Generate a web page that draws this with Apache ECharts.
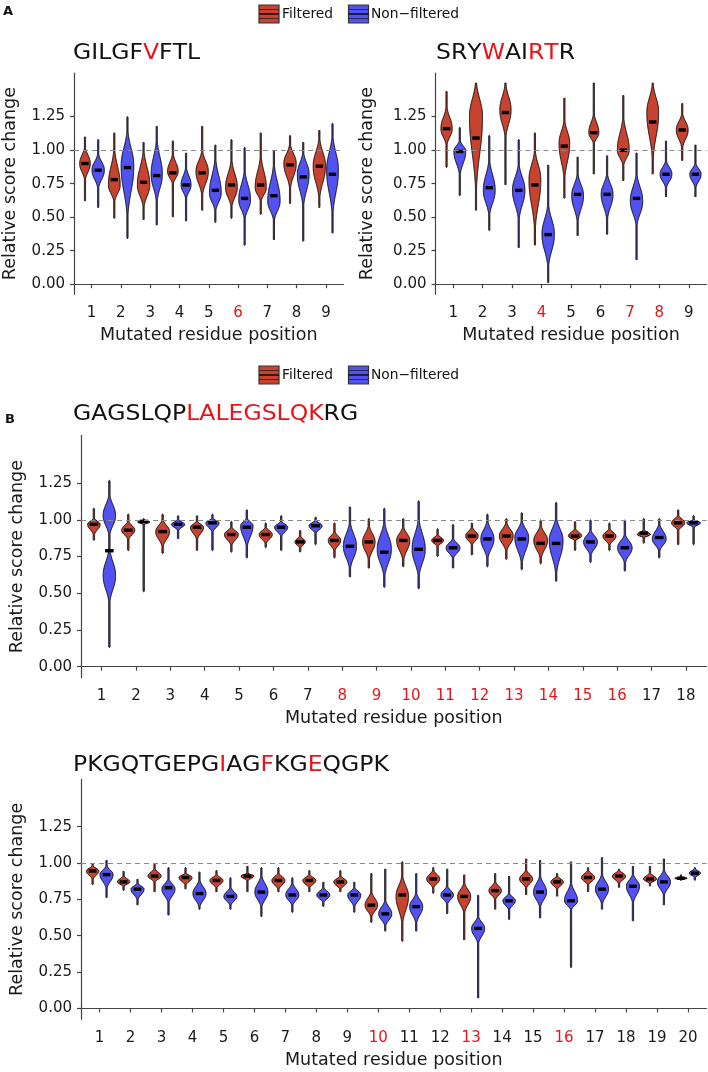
<!DOCTYPE html>
<html>
<head>
<meta charset="utf-8">
<script src="https://cdn.jsdelivr.net/npm/echarts@6/dist/echarts.min.js"></script>
<style>
  html, body { margin: 0; background: #fff; }
  #chart { width: 708px; height: 1072px; }
</style>
</head>
<body>
<div id="chart"></div>
<script>
// every violin row: [position, min, bodyLow, median, bodyHigh, max, halfWidth, peak]
const gilgfSeq = 'GILGFVFTL';
const gilgfRed = [6];
const gilgfFiltered = [
  [1, 0.62, 0.78, 0.90, 1.02, 1.10, 0.18, 0.90],
  [2, 0.49, 0.62, 0.78, 1.00, 1.13, 0.20, 0.74],
  [3, 0.48, 0.58, 0.76, 0.99, 1.06, 0.21, 0.74],
  [4, 0.50, 0.75, 0.83, 0.97, 1.07, 0.18, 0.84],
  [5, 0.55, 0.67, 0.83, 0.99, 1.18, 0.21, 0.84],
  [6, 0.49, 0.58, 0.74, 0.92, 1.08, 0.20, 0.72],
  [7, 0.52, 0.62, 0.74, 0.95, 1.13, 0.19, 0.72],
  [8, 0.60, 0.72, 0.89, 1.04, 1.11, 0.21, 0.90],
  [9, 0.57, 0.65, 0.88, 1.08, 1.15, 0.21, 0.88]
];
const gilgfNonFiltered = [
  [1, 0.57, 0.72, 0.85, 0.97, 1.08, 0.21, 0.85],
  [2, 0.34, 0.52, 0.87, 1.14, 1.25, 0.215, 0.88],
  [3, 0.44, 0.62, 0.81, 1.07, 1.18, 0.19, 0.82],
  [4, 0.47, 0.64, 0.74, 0.87, 0.98, 0.17, 0.74],
  [5, 0.46, 0.55, 0.70, 0.93, 1.04, 0.20, 0.68],
  [6, 0.29, 0.49, 0.64, 0.84, 1.02, 0.20, 0.63],
  [7, 0.33, 0.48, 0.66, 0.89, 1.00, 0.21, 0.62],
  [8, 0.32, 0.59, 0.80, 0.98, 1.06, 0.20, 0.82],
  [9, 0.38, 0.53, 0.82, 1.10, 1.20, 0.20, 0.85]
];

const srywSeq = 'SRYWAIRTR';
const srywRed = [4, 7, 8];
const srywFiltered = [
  [1, 0.87, 1.04, 1.16, 1.32, 1.44, 0.19, 1.16],
  [2, 0.55, 0.72, 1.09, 1.50, 1.50, 0.22, 1.25],
  [3, 0.74, 1.10, 1.28, 1.49, 1.50, 0.19, 1.30],
  [4, 0.29, 0.42, 0.74, 0.99, 1.13, 0.20, 0.78],
  [5, 0.64, 0.79, 1.03, 1.22, 1.39, 0.18, 1.05],
  [6, 0.82, 1.05, 1.13, 1.27, 1.50, 0.17, 1.13],
  [7, 0.77, 0.89, 1.00, 1.24, 1.41, 0.20, 1.00],
  [8, 0.82, 0.94, 1.21, 1.49, 1.50, 0.20, 1.28],
  [9, 0.92, 1.02, 1.15, 1.27, 1.35, 0.20, 1.15]
];
const srywNonFiltered = [
  [1, 0.66, 0.82, 0.99, 1.07, 1.17, 0.20, 0.99],
  [2, 0.40, 0.52, 0.72, 0.92, 1.11, 0.20, 0.70],
  [3, 0.27, 0.49, 0.70, 0.89, 1.08, 0.21, 0.70],
  [4, 0.01, 0.14, 0.37, 0.59, 0.89, 0.21, 0.37],
  [5, 0.36, 0.47, 0.67, 0.82, 0.95, 0.20, 0.66],
  [6, 0.37, 0.49, 0.67, 0.82, 0.96, 0.20, 0.67],
  [7, 0.18, 0.44, 0.64, 0.82, 0.98, 0.21, 0.62],
  [8, 0.65, 0.72, 0.82, 0.92, 1.07, 0.20, 0.82],
  [9, 0.65, 0.72, 0.82, 0.90, 1.04, 0.19, 0.82]
];

const gagsSeq = 'GAGSLQPLALEGSLQKRG';
const gagsRed = [8, 9, 10, 11, 12, 13, 14, 15, 16];
const gagsFiltered = [
  [1, 0.86, 0.90, 0.97, 1.01, 1.08, 0.18, 0.97],
  [2, 0.79, 0.87, 0.93, 0.99, 1.04, 0.19, 0.93],
  [3, 0.77, 0.82, 0.92, 1.00, 1.04, 0.20, 0.92],
  [4, 0.79, 0.87, 0.95, 0.99, 1.03, 0.19, 0.95],
  [5, 0.78, 0.83, 0.90, 0.95, 0.99, 0.20, 0.90],
  [6, 0.81, 0.84, 0.90, 0.95, 0.98, 0.19, 0.90],
  [7, 0.78, 0.81, 0.85, 0.89, 0.93, 0.15, 0.85],
  [8, 0.74, 0.79, 0.86, 0.92, 0.98, 0.18, 0.86],
  [9, 0.67, 0.73, 0.85, 0.96, 1.01, 0.18, 0.85],
  [10, 0.68, 0.73, 0.86, 0.95, 1.01, 0.19, 0.86],
  [11, 0.75, 0.82, 0.86, 0.90, 0.94, 0.17, 0.86],
  [12, 0.76, 0.83, 0.89, 0.95, 0.98, 0.18, 0.89],
  [13, 0.73, 0.79, 0.89, 0.98, 1.01, 0.20, 0.89],
  [14, 0.70, 0.74, 0.84, 0.96, 1.00, 0.20, 0.86],
  [15, 0.79, 0.86, 0.89, 0.94, 0.99, 0.19, 0.89],
  [16, 0.79, 0.83, 0.89, 0.94, 0.98, 0.19, 0.89],
  [17, 0.84, 0.88, 0.91, 0.93, 1.01, 0.19, 0.90],
  [18, 0.83, 0.93, 0.98, 1.03, 1.07, 0.19, 0.98]
];
const gagsNonFiltered = [
  [1, 0.13, 0.90, 0.79, 1.17, 1.27, 0.18, 1.03],
  [2, 0.51, 0.97, 0.99, 1.00, 1.01, 0.18, 0.985],
  [3, 0.87, 0.93, 0.97, 1.00, 1.03, 0.19, 0.97],
  [4, 0.79, 0.92, 0.98, 1.01, 1.04, 0.19, 0.98],
  [5, 0.74, 0.82, 0.95, 1.01, 1.07, 0.18, 0.96],
  [6, 0.79, 0.89, 0.95, 0.99, 1.03, 0.19, 0.95],
  [7, 0.83, 0.91, 0.96, 0.995, 1.02, 0.19, 0.96],
  [8, 0.61, 0.67, 0.82, 0.98, 1.09, 0.19, 0.82],
  [9, 0.54, 0.62, 0.78, 0.98, 1.08, 0.205, 0.80],
  [10, 0.53, 0.62, 0.80, 1.00, 1.13, 0.19, 0.80],
  [11, 0.67, 0.74, 0.81, 0.87, 0.97, 0.20, 0.81],
  [12, 0.68, 0.74, 0.87, 0.99, 1.04, 0.19, 0.87],
  [13, 0.66, 0.71, 0.87, 0.99, 1.05, 0.20, 0.88],
  [14, 0.58, 0.64, 0.84, 1.01, 1.12, 0.20, 0.86],
  [15, 0.71, 0.76, 0.85, 0.93, 1.00, 0.20, 0.85],
  [16, 0.65, 0.71, 0.81, 0.90, 1.00, 0.21, 0.81],
  [17, 0.74, 0.79, 0.88, 0.97, 1.01, 0.20, 0.87],
  [18, 0.83, 0.95, 0.98, 1.00, 1.03, 0.20, 0.98]
];
// second density bump: position -> [[centre, spread, halfWidth]]
const gagsNonFilteredBumps = { 1: [[0.62, 0.09, 0.18]] };

const pkgqSeq = 'PKGQTGEPGIAGFKGEQGPK';
const pkgqRed = [10, 13, 16];
const pkgqFiltered = [
  [1, 0.85, 0.89, 0.945, 0.98, 1.00, 0.20, 0.945],
  [2, 0.81, 0.84, 0.87, 0.91, 0.945, 0.20, 0.87],
  [3, 0.80, 0.87, 0.91, 0.96, 1.00, 0.21, 0.91],
  [4, 0.82, 0.85, 0.90, 0.93, 0.97, 0.21, 0.90],
  [5, 0.80, 0.83, 0.88, 0.92, 0.95, 0.21, 0.88],
  [6, 0.80, 0.88, 0.91, 0.93, 0.98, 0.21, 0.91],
  [7, 0.80, 0.82, 0.88, 0.93, 0.97, 0.21, 0.88],
  [8, 0.80, 0.83, 0.88, 0.92, 0.95, 0.21, 0.88],
  [9, 0.80, 0.82, 0.87, 0.91, 0.95, 0.21, 0.87],
  [10, 0.59, 0.63, 0.71, 0.80, 0.93, 0.20, 0.71],
  [11, 0.46, 0.59, 0.78, 0.91, 1.01, 0.20, 0.77],
  [12, 0.79, 0.83, 0.89, 0.95, 0.97, 0.21, 0.89],
  [13, 0.47, 0.66, 0.77, 0.86, 0.92, 0.21, 0.77],
  [14, 0.68, 0.75, 0.81, 0.87, 0.93, 0.20, 0.81],
  [15, 0.78, 0.83, 0.89, 0.95, 1.03, 0.21, 0.89],
  [16, 0.77, 0.82, 0.87, 0.91, 0.93, 0.20, 0.87],
  [17, 0.80, 0.85, 0.90, 0.95, 0.97, 0.21, 0.90],
  [18, 0.83, 0.86, 0.91, 0.95, 0.96, 0.21, 0.91],
  [19, 0.84, 0.86, 0.89, 0.93, 0.98, 0.21, 0.89],
  [20, 0.88, 0.885, 0.895, 0.905, 0.92, 0.20, 0.895]
];
const pkgqNonFiltered = [
  [1, 0.76, 0.83, 0.92, 0.98, 1.02, 0.21, 0.92],
  [2, 0.71, 0.75, 0.82, 0.86, 0.89, 0.21, 0.82],
  [3, 0.64, 0.73, 0.83, 0.89, 0.97, 0.21, 0.82],
  [4, 0.68, 0.70, 0.79, 0.88, 0.94, 0.21, 0.79],
  [5, 0.68, 0.71, 0.77, 0.83, 0.90, 0.21, 0.77],
  [6, 0.63, 0.70, 0.80, 0.91, 0.97, 0.21, 0.80],
  [7, 0.66, 0.71, 0.78, 0.86, 0.90, 0.21, 0.78],
  [8, 0.70, 0.73, 0.78, 0.83, 0.87, 0.21, 0.78],
  [9, 0.66, 0.70, 0.78, 0.83, 0.87, 0.21, 0.78],
  [10, 0.53, 0.57, 0.65, 0.74, 0.96, 0.21, 0.65],
  [11, 0.53, 0.59, 0.70, 0.79, 0.93, 0.21, 0.70],
  [12, 0.65, 0.72, 0.78, 0.84, 0.96, 0.20, 0.78],
  [13, 0.07, 0.45, 0.55, 0.63, 0.78, 0.21, 0.55],
  [14, 0.61, 0.68, 0.74, 0.79, 0.91, 0.20, 0.74],
  [15, 0.62, 0.70, 0.80, 0.91, 1.02, 0.21, 0.80],
  [16, 0.28, 0.68, 0.74, 0.86, 1.01, 0.21, 0.74],
  [17, 0.68, 0.72, 0.82, 0.92, 1.04, 0.21, 0.82],
  [18, 0.60, 0.73, 0.84, 0.92, 0.98, 0.21, 0.84],
  [19, 0.71, 0.78, 0.87, 0.95, 1.03, 0.21, 0.87],
  [20, 0.88, 0.90, 0.93, 0.96, 0.97, 0.18, 0.93]
];

const yTicks = [0, 0.25, 0.5, 0.75, 1, 1.25];
const refLine = 1;
const yCap = 1.5;

const RED = '#C8432F';
const BLUE = '#5252F2';
const FONT = 'DejaVu Sans';
const TAIL = 0.02;
const DODGE = 0.225;
const SHAPE_POWER = 2.3;

const chart = echarts.init(document.getElementById('chart'));

function halfWidthAt(y, row, bumps) {
  const lo = row[2], hi = row[4], hw = row[6], peak = row[7];
  const s = y < peak ? (peak - lo) / 2 : (hi - peak) / 2;
  let w = hw * Math.exp(-0.5 * Math.pow(Math.abs(y - peak) / s, SHAPE_POWER));
  (bumps || []).forEach(function (b) {
    w = Math.max(w, b[2] * Math.exp(-0.5 * Math.pow(Math.abs(y - b[0]) / b[1], SHAPE_POWER)));
  });
  return Math.max(w, TAIL);
}

function violinSeries(data, xi, offset, color, bumps) {
  return {
    type: 'custom',
    xAxisIndex: xi,
    yAxisIndex: xi,
    z: 3,
    data: data,
    renderItem: function (params, api) {
      const row = data[params.dataIndex];
      const cx = row[0] + offset;
      const min = row[1], med = row[3], max = row[5];
      const top = Math.min(max, yCap);
      const px = Math.max(20, Math.round(api.size([0, top - min])[1] * 1.5));
      const b = bumps ? bumps[row[0]] : null;
      const left = [], right = [];
      for (let i = 0; i <= px; i++) {
        const y = min + (top - min) * i / px;
        let w = halfWidthAt(y, row, b);
        if (i === 0 || (i === px && max < yCap)) w = 0;
        left.push(api.coord([cx - w, y]));
        right.push(api.coord([cx + w, y]));
      }
      const pts = left.concat(right.reverse());
      const bar = api.size([0.25, 0])[0];
      const m = api.coord([cx, med]);
      return {
        type: 'group',
        children: [
          { type: 'polygon', shape: { points: pts },
            style: { fill: color, stroke: '#0a0a0a', lineWidth: 1 } },
          { type: 'rect', shape: { x: m[0] - bar / 2, y: m[1] - 1.7, width: bar, height: 3.4 },
            style: { fill: '#000' } }
        ]
      };
    }
  };
}

function refSeries(xi) {
  return {
    type: 'line', xAxisIndex: xi, yAxisIndex: xi, data: [], z: 1,
    markLine: {
      silent: true, symbol: 'none', label: { show: false },
      lineStyle: { color: '#8a8a8a', type: [5, 4], width: 1 },
      data: [{ yAxis: refLine }]
    }
  };
}

function positions(seq) {
  return seq.split('').map(function (c, i) { return i + 1; });
}

function xAxis(gi, seq, red) {
  const pos = positions(seq);
  return {
    type: 'value', gridIndex: gi, min: 0.4, max: pos.length + 0.6,
    axisLine: { lineStyle: { color: '#444', width: 1.2 } },
    axisTick: { customValues: pos, length: 4, lineStyle: { color: '#444', width: 1.2 } },
    axisLabel: {
      customValues: pos, margin: 11,
      formatter: function (v) { return (red.indexOf(v) >= 0 ? '{r|' : '{k|') + v + '}'; },
      rich: {
        k: { color: '#1a1a1a', fontSize: 15, fontFamily: FONT },
        r: { color: '#e8141c', fontSize: 15, fontFamily: FONT }
      }
    },
    splitLine: { show: false },
    name: 'Mutated residue position', nameLocation: 'middle', nameGap: 32,
    nameTextStyle: { color: '#1a1a1a', fontSize: 17.5, fontFamily: FONT }
  };
}

function yAxis(gi, gap) {
  return {
    type: 'value', gridIndex: gi, min: -0.075, max: 1.575,
    axisLine: { show: true, lineStyle: { color: '#444', width: 1.2 } },
    axisTick: { show: true, customValues: yTicks, length: 4, lineStyle: { color: '#444', width: 1.2 } },
    axisLabel: {
      customValues: yTicks, margin: 9, color: '#1a1a1a', fontSize: 15, fontFamily: FONT,
      formatter: function (v) { return v.toFixed(2); }
    },
    splitLine: { show: false },
    name: 'Relative score change', nameLocation: 'middle', nameGap: gap, nameRotate: 90,
    nameTextStyle: { color: '#1a1a1a', fontSize: 17.5, fontFamily: FONT }
  };
}

function titleText(seq, red, x, y) {
  const rich = seq.split('').map(function (c, i) {
    return (red.indexOf(i + 1) >= 0 ? '{r|' : '{k|') + c + '}';
  }).join('');
  return {
    type: 'text', x: x, y: y, scaleX: 1.12,
    style: {
      text: rich, verticalAlign: 'middle', align: 'left',
      rich: {
        k: { fill: '#111', fontSize: 21, fontFamily: FONT },
        r: { fill: '#e8141c', fontSize: 21, fontFamily: FONT }
      }
    }
  };
}

function legendKey(x, y, color) {
  return [
    { type: 'rect', shape: { x: x, y: y, width: 20, height: 18 },
      style: { fill: color, stroke: '#333', lineWidth: 1.2 } },
    { type: 'line', shape: { x1: x, y1: y + 4.5, x2: x + 20, y2: y + 4.5 }, style: { stroke: '#222', lineWidth: 0.8 } },
    { type: 'line', shape: { x1: x, y1: y + 9, x2: x + 20, y2: y + 9 }, style: { stroke: '#111', lineWidth: 1.6 } },
    { type: 'line', shape: { x1: x, y1: y + 13.5, x2: x + 20, y2: y + 13.5 }, style: { stroke: '#222', lineWidth: 0.8 } }
  ];
}

function legendGroup(y) {
  const txt = function (s, x) {
    return { type: 'text', x: x, y: y + 9,
      style: { text: s, fill: '#111', fontSize: 13.8, fontFamily: FONT, verticalAlign: 'middle' } };
  };
  return legendKey(259, y, RED).concat([txt('Filtered', 282)])
    .concat(legendKey(348.5, y, BLUE)).concat([txt('Non\u2212filtered', 371)]);
}

const panelLetter = function (s, x, y) {
  return { type: 'text', x: x, y: y,
    style: { text: s, fill: '#111', fontSize: 13, fontWeight: 'bold', fontFamily: FONT, verticalAlign: 'middle' } };
};

const option = {
  animation: false,
  backgroundColor: '#fff',
  textStyle: { fontFamily: FONT },
  grid: [
    { left: 73, top: 73, width: 270.5, height: 221.3 },
    { left: 435.5, top: 73, width: 271, height: 221.3 },
    { left: 73, top: 435.5, width: 633.5, height: 242.2 },
    { left: 73, top: 779.4, width: 633.5, height: 239.9 }
  ],
  xAxis: [
    xAxis(0, gilgfSeq, gilgfRed),
    xAxis(1, srywSeq, srywRed),
    xAxis(2, gagsSeq, gagsRed),
    xAxis(3, pkgqSeq, pkgqRed)
  ],
  yAxis: [yAxis(0, 55), yAxis(1, 59), yAxis(2, 55), yAxis(3, 55)],
  series: [
    refSeries(0), refSeries(1), refSeries(2), refSeries(3),
    violinSeries(gilgfFiltered, 0, -DODGE, RED),
    violinSeries(gilgfNonFiltered, 0, DODGE, BLUE),
    violinSeries(srywFiltered, 1, -DODGE, RED),
    violinSeries(srywNonFiltered, 1, DODGE, BLUE),
    violinSeries(gagsFiltered, 2, -DODGE, RED),
    violinSeries(gagsNonFiltered, 2, DODGE, BLUE, gagsNonFilteredBumps),
    violinSeries(pkgqFiltered, 3, -DODGE, RED),
    violinSeries(pkgqNonFiltered, 3, DODGE, BLUE)
  ],
  graphic: [].concat(
    legendGroup(5),
    legendGroup(366),
    [
      panelLetter('A', 3, 12),
      panelLetter('B', 5, 419.5),
      titleText(gilgfSeq, gilgfRed, 73, 53.5),
      titleText(srywSeq, srywRed, 436, 53.5),
      titleText(gagsSeq, gagsRed, 73, 415),
      titleText(pkgqSeq, pkgqRed, 73, 766)
    ]
  )
};

chart.setOption(option);
</script>
</body>
</html>
